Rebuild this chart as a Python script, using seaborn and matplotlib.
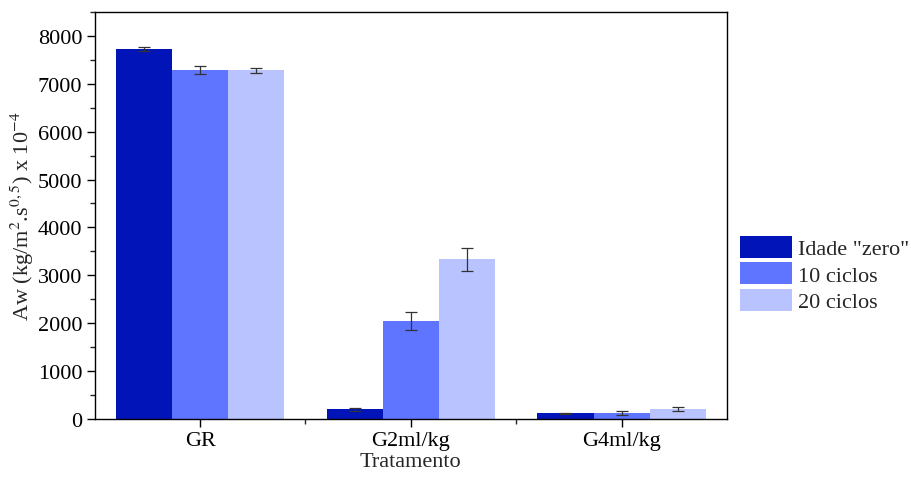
import pandas as pd
import matplotlib
matplotlib.use("Agg")
import matplotlib.pyplot as plt
from matplotlib.ticker import MultipleLocator, FixedLocator
import seaborn as sns

# data
tratamentos = ["GR", "G2ml/kg", "G4ml/kg"]
series = ['Idade "zero"', "10 ciclos", "20 ciclos"]
idade_zero = [7730, 200, 120]
ciclos_10 = [7290, 2050, 120]
ciclos_20 = [7280, 3330, 210]
err_zero = [35, 25, 10]
err_10 = [80, 190, 35]
err_20 = [45, 230, 45]
colors = ["#0014B8", "#5F74FF", "#B9C3FF"]

rows = []
for vals, errs, s in [(idade_zero, err_zero, series[0]),
                      (ciclos_10, err_10, series[1]),
                      (ciclos_20, err_20, series[2])]:
    for t, v, e in zip(tratamentos, vals, errs):
        rows.append({"Tratamento": t, "Aw": v, "err": e, "Serie": s})
df = pd.DataFrame(rows)

sns.set_style("ticks")
plt.rcParams["font.family"] = ["Liberation Serif", "DejaVu Serif"]
plt.rcParams["mathtext.fontset"] = "stix"
fs = 16
plt.rcParams["font.size"] = fs

fig = plt.figure(figsize=(9.11, 4.81), dpi=100)
ax = fig.add_axes([0.104, 0.127, 0.694, 0.846])

sns.barplot(data=df, x="Tratamento", y="Aw", hue="Serie", order=tratamentos,
            hue_order=series, palette=colors, saturation=1, errorbar=None,
            linewidth=0, ax=ax)

# error bars placed on the bars seaborn drew
for cont, s in zip(ax.containers, series):
    sub = df[df["Serie"] == s].set_index("Tratamento").loc[tratamentos]
    xs = [p.get_x() + p.get_width() / 2 for p in cont.patches]
    ax.errorbar(xs, sub["Aw"].values, yerr=sub["err"].values, fmt="none",
                ecolor="#333333", elinewidth=0.9, capsize=4, capthick=0.9)

ax.set_xlim(-0.5, 2.5)
ax.set_ylim(0, 8500)
ax.yaxis.set_major_locator(MultipleLocator(1000))
ax.yaxis.set_minor_locator(MultipleLocator(500))
ax.xaxis.set_minor_locator(FixedLocator([0.5, 1.5]))
ax.tick_params(axis="both", which="major", direction="out", length=6, width=1,
               labelsize=fs, colors="black", pad=3)
ax.tick_params(axis="both", which="minor", direction="out", length=3.5, width=1)
for sp in ax.spines.values():
    sp.set_visible(True)
    sp.set_linewidth(1)
    sp.set_color("black")

ax.set_xlabel("Tratamento", fontsize=fs, labelpad=1)
ax.set_ylabel(r"Aw (kg/m$^2$.s$^{0,5}$) x 10$^{-4}$", fontsize=fs, labelpad=1)

leg = ax.legend(loc="center left", bbox_to_anchor=(0.812, 0.428),
                bbox_transform=fig.transFigure, frameon=False, fontsize=fs,
                handlelength=2.35, handleheight=1.15, labelspacing=0.13,
                handletextpad=0.25, borderaxespad=0, borderpad=0)

fig.savefig("out.png", dpi=100)
